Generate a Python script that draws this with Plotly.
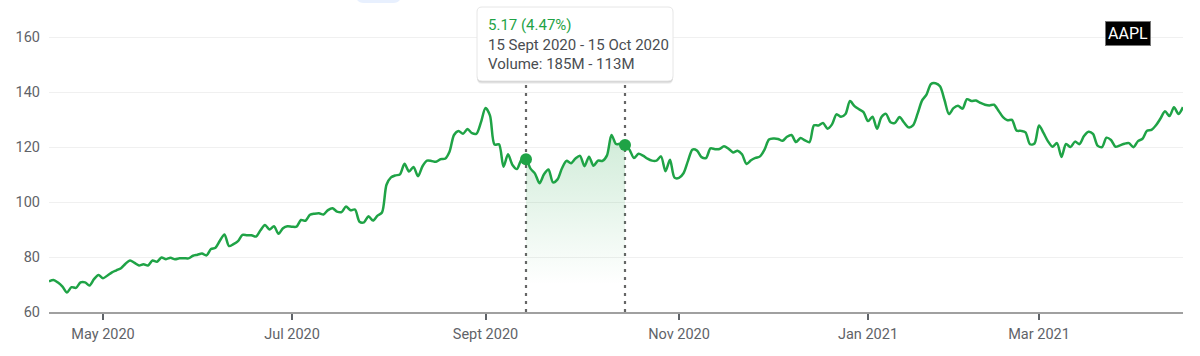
import pandas as pd
import plotly.graph_objects as go

# ---------------- data (AAPL daily close) ----------------
holidays = ["2020-05-25", "2020-07-03", "2020-09-07", "2020-11-26", "2020-12-25",
            "2021-01-01", "2021-01-18", "2021-02-15", "2021-04-02"]

apr20 = [71.11, 71.67, 70.70, 69.23, 67.09, 69.03, 68.76, 70.74, 70.79, 69.64, 71.93, 73.45]
may20 = [72.27, 73.29, 74.39, 75.16, 75.93, 77.53, 78.75, 77.85, 76.91, 77.39, 76.93, 78.74,
         78.29, 79.81, 79.21, 79.72, 79.18, 79.53, 79.56, 79.49]
jun20 = [80.46, 80.83, 81.28, 80.58, 82.88, 83.36, 85.99, 88.21, 83.97, 84.70, 85.75, 88.02,
         87.90, 87.93, 87.43, 89.72, 91.63, 90.01, 91.21, 88.41, 90.45, 91.20]
jul20 = [91.03, 91.03, 93.46, 93.17, 95.34, 95.75, 95.92, 95.48, 97.06, 97.72, 96.52, 96.33,
         98.36, 97.00, 97.27, 92.85, 92.62, 94.81, 93.25, 95.04, 96.19, 106.26]
aug20 = [108.94, 109.67, 110.06, 113.90, 111.11, 112.73, 109.38, 113.01, 115.01, 114.91,
         114.61, 115.56, 115.71, 118.28, 124.37, 125.86, 124.82, 126.52, 125.01, 124.81, 129.04]
sep20 = [134.18, 131.40, 120.88, 120.96, 112.82, 117.32, 113.49, 112.00, 115.36, 115.54,
         112.13, 110.34, 106.84, 110.08, 111.81, 107.12, 108.22, 112.28, 114.96, 114.09, 115.81]
oct20 = [116.79, 113.02, 116.50, 113.16, 115.08, 114.97, 116.97, 124.40, 121.10, 121.19,
         120.71, 119.02, 115.98, 117.51, 116.87, 115.75, 115.04, 115.05, 116.60, 111.20,
         115.32, 108.86]
nov20 = [108.77, 110.44, 114.95, 119.03, 118.69, 116.32, 115.97, 119.49, 119.21, 119.26,
         120.30, 119.39, 118.03, 118.64, 117.34, 113.85, 115.17, 116.03, 116.59, 119.05]
dec20 = [122.72, 123.08, 122.94, 122.25, 123.75, 124.38, 121.78, 123.24, 122.41, 121.78,
         127.88, 127.81, 128.70, 126.66, 128.23, 131.88, 130.96, 131.97, 136.69, 134.87,
         133.72, 132.69]
jan21 = [129.41, 131.01, 126.60, 130.92, 132.05, 128.98, 128.80, 130.89, 128.91, 127.14,
         127.83, 132.03, 136.87, 139.07, 142.92, 143.16, 142.06, 137.09, 131.96]
feb21 = [134.14, 134.99, 133.94, 137.39, 136.76, 136.91, 136.01, 135.39, 135.13, 135.37,
         133.19, 130.84, 129.71, 129.87, 126.00, 125.86, 125.35, 120.99, 121.26]
mar21 = [127.79, 125.12, 122.06, 120.13, 121.42, 116.36, 121.09, 119.98, 121.96, 121.03,
         123.99, 125.57, 124.76, 120.53, 119.99, 123.39, 122.54, 120.09, 120.59, 121.21,
         121.39, 119.90, 122.15]
apr21 = [123.00, 125.90, 126.21, 127.90, 130.36, 133.00, 131.24, 134.43, 132.03, 134.50]

month_spans = [("2020-04-15", "2020-04-30", apr20), ("2020-05-01", "2020-05-31", may20),
               ("2020-06-01", "2020-06-30", jun20), ("2020-07-01", "2020-07-31", jul20),
               ("2020-08-01", "2020-08-31", aug20), ("2020-09-01", "2020-09-30", sep20),
               ("2020-10-01", "2020-10-31", oct20), ("2020-11-01", "2020-11-30", nov20),
               ("2020-12-01", "2020-12-31", dec20), ("2021-01-01", "2021-01-31", jan21),
               ("2021-02-01", "2021-02-28", feb21), ("2021-03-01", "2021-03-31", mar21),
               ("2021-04-01", "2021-04-15", apr21)]

tick_dates = ["2020-05-01", "2020-07-01", "2020-09-01", "2020-11-02", "2021-01-04", "2021-03-01"]
tick_text = ["May 2020", "Jul 2020", "Sept 2020", "Nov 2020", "Jan 2021", "Mar 2021"]
y_ticks = [60, 80, 100, 120, 140, 160]

sel_start, sel_end = "2020-09-15", "2020-10-15"
volume_text = "Volume: 185M - 113M"
ticker = "AAPL"

# ---------------- build series ----------------
dates, close = [], []
for a, b, vals in month_spans:
    d = pd.bdate_range(a, b, freq="C", holidays=holidays)
    assert len(d) == len(vals), (a, len(d), len(vals))
    dates += list(d)
    close += vals
s = pd.Series(close, index=pd.DatetimeIndex(dates))
sel = s[sel_start:sel_end]
v0, v1 = sel.iloc[0], sel.iloc[-1]
chg = v1 - v0
pct = chg / v0 * 100

GREEN = "#1fa346"
FONT = "Roboto, Arial, sans-serif"

W, H = 1200, 356
L, R, T, B = 49, 17, 15, 44
PW, PH = W - L - R, H - T - B


def pxx(x):
    return (x - L) / PW


def pxy(y):
    return (H - B - y) / PH


def rounded(x0, y0, x1, y1, r):
    return (f"M {pxx(x0 + r)},{pxy(y0)} L {pxx(x1 - r)},{pxy(y0)} "
            f"Q {pxx(x1)},{pxy(y0)} {pxx(x1)},{pxy(y0 + r)} L {pxx(x1)},{pxy(y1 - r)} "
            f"Q {pxx(x1)},{pxy(y1)} {pxx(x1 - r)},{pxy(y1)} L {pxx(x0 + r)},{pxy(y1)} "
            f"Q {pxx(x0)},{pxy(y1)} {pxx(x0)},{pxy(y1 - r)} L {pxx(x0)},{pxy(y0 + r)} "
            f"Q {pxx(x0)},{pxy(y0)} {pxx(x0 + r)},{pxy(y0)} Z")


fig = go.Figure()

fig.add_trace(go.Scatter(
    x=sel.index, y=sel.values, mode="lines",
    line=dict(width=0, shape="spline", smoothing=0.8),
    fill="tozeroy",
    fillgradient=dict(type="vertical",
                      colorscale=[[0, "rgba(31,163,70,0)"], [1, "rgba(31,163,70,0.2)"]],
                      start=70, stop=122),
    hoverinfo="skip", showlegend=False))

fig.add_trace(go.Scatter(
    x=s.index, y=s.values, mode="lines",
    line=dict(color=GREEN, width=2.5, shape="spline", smoothing=0.8),
    hoverinfo="skip", showlegend=False))

fig.add_trace(go.Scatter(
    x=[sel.index[0], sel.index[-1]], y=[v0, v1], mode="markers",
    marker=dict(color=GREEN, size=12),
    hoverinfo="skip", showlegend=False))

shapes = []
for d in (sel_start, sel_end):
    shapes.append(dict(type="line", xref="x", yref="paper", x0=d, x1=d, y0=0, y1=pxy(81),
                       line=dict(color="#666666", width=2.2, dash="3px,5px"), layer="between"))
# tooltip shadow + box
for off, a in ((3, 0.05), (2, 0.07), (1, 0.09)):
    shapes.append(dict(type="path", xref="paper", yref="paper",
                       path=rounded(477, 7 + off, 673, 81 + off, 5),
                       fillcolor=f"rgba(0,0,0,{a})", line=dict(width=0)))
shapes.append(dict(type="path", xref="paper", yref="paper",
                   path=rounded(477, 7, 673, 81, 5),
                   fillcolor="white", line=dict(color="#e6e6e6", width=1)))
# cut-off pill at top
shapes.append(dict(type="path", xref="paper", yref="paper",
                   path=rounded(356, -20, 401, 3, 8),
                   fillcolor="#e8f0fe", line=dict(width=0)))

annotations = [
    dict(xref="paper", yref="paper", x=pxx(485.5), y=pxy(44.5), xanchor="left", yanchor="middle",
         align="left", showarrow=False,
         text=(f"<span style='color:{GREEN}'>{chg:.2f} ({pct:.2f}%)</span><br>"
               f"15 Sept 2020 - 15 Oct 2020<br>{volume_text}"),
         font=dict(family=FONT, size=15, color="#4a4d51")),
    dict(xref="paper", yref="paper", x=pxx(1127.5), y=pxy(33.5), xanchor="center", yanchor="middle",
         showarrow=False, text=ticker, bgcolor="black", bordercolor="#777777", borderwidth=1,
         borderpad=2, font=dict(family=FONT, size=16, color="white")),
]

fig.update_layout(
    width=W, height=H, margin=dict(l=L, r=R, t=T, b=B),
    paper_bgcolor="white", plot_bgcolor="white",
    font=dict(family=FONT, size=14.5, color="#5f6368"),
    shapes=shapes, annotations=annotations, showlegend=False, hovermode=False,
    xaxis=dict(type="date", range=[s.index[0], s.index[-1]],
               rangebreaks=[dict(bounds=["sat", "mon"]), dict(values=holidays)],
               tickmode="array", tickvals=tick_dates, ticktext=tick_text,
               showgrid=False, zeroline=False, showline=True, linecolor="#a0a0a0", linewidth=1.5,
               ticks="outside", ticklen=6, tickwidth=2, tickcolor="#5f6368",
               ticklabelstandoff=2,
               tickfont=dict(size=14.5, color="#5f6368")),
    yaxis=dict(range=[60, 168], tickmode="array", tickvals=y_ticks,
               showgrid=True, gridcolor="#f0f0f0", gridwidth=1, zeroline=False,
               showline=False, ticks="", ticklabelstandoff=8,
               tickfont=dict(size=14.5, color="#5f6368")),
)

fig.write_html("out.html", config={"displayModeBar": False, "staticPlot": True},
               post_script="document.body.style.margin='0';")
